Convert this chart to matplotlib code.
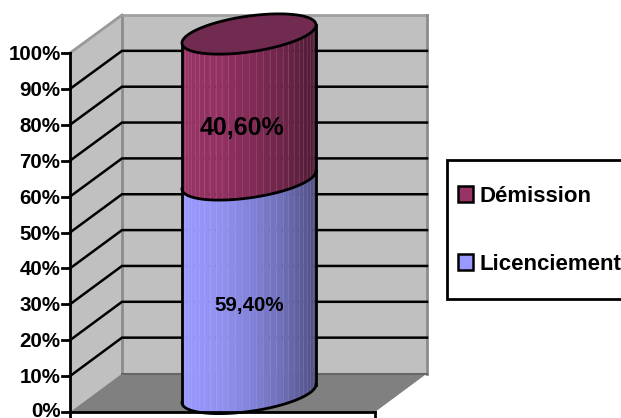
"""Stacked 3D-look cylinder: share of departures by reason."""

import numpy as np
import matplotlib

matplotlib.use("Agg")
import matplotlib.pyplot as plt
from matplotlib.colors import to_rgb
from matplotlib.patches import Polygon, Rectangle

series_names = ["Licenciement", "Démission"]
series_values = [59.40, 40.60]
value_labels = ["59,40%", "40,60%"]
tick_values = [0, 10, 20, 30, 40, 50, 60, 70, 80, 90, 100]
tick_labels = ["0%", "10%", "20%", "30%", "40%", "50%", "60%", "70%", "80%", "90%", "100%"]

WIDTH, HEIGHT = 621, 418
FRONT_X, BACK_X = 70, 122
FRONT_RIGHT, BACK_RIGHT = 375, 427
FRONT_Y0, FRONT_SCALE = 412, 3.59
BACK_Y0, BACK_SCALE = 373.5, 3.585

CYL_X, CYL_RX = 249, 67
CYL_Y0, CYL_SCALE = 393.5, 3.595
CYL_TILT, CYL_RY = 9, 18

SERIES_COLORS = ["#9999FF", "#993366"]
TOP_COLOR = "#722B50"
INK = "black"

plt.rcParams["font.family"] = ["Liberation Sans", "DejaVu Sans"]
plt.rcParams["font.weight"] = "bold"


def front_y(v):
    return FRONT_Y0 - FRONT_SCALE * v


def back_y(v):
    return BACK_Y0 - BACK_SCALE * v


def rim(v, t):
    """Point(s) on the tilted cylinder section at value v for angle t."""
    x = CYL_X - CYL_RX * np.cos(t)
    y = CYL_Y0 - CYL_SCALE * v + CYL_TILT * np.cos(t) + CYL_RY * np.sin(t)
    return x, y


def shade(color, t):
    """Darken a base colour towards the right-hand side of the cylinder."""
    p = (1 - np.cos(t)) / 2
    f = np.interp(p, [0, 0.25, 0.5, 0.75, 0.9, 1], [1, 0.96, 0.86, 0.72, 0.6, 0.5])
    return tuple(c * f for c in to_rgb(color))


def side_line(ax, low, high, t, **style):
    """Vertical line along the cylinder wall at angle t."""
    x0, y0 = rim(low, t)
    x1, y1 = rim(high, t)
    ax.plot([x0, x1], [y0, y1], **style)


def draw_body(ax, low, high, color):
    edges = np.linspace(0, np.pi, 31)
    for a, b in zip(edges[:-1], edges[1:]):
        ts = np.linspace(a, b, 5)
        xl, yl = rim(low, ts)
        xh, yh = rim(high, ts[::-1])
        pts = np.column_stack([np.r_[xl, xh], np.r_[yl, yh]])
        ax.add_patch(Polygon(pts, closed=True, fc=shade(color, (a + b) / 2), ec=shade(color, (a + b) / 2),
                             lw=0.3, zorder=4))
        # faint facet seam
        side_line(ax, low, high, b, color="white", lw=0.6, alpha=0.12, zorder=4.2)

    ts = np.linspace(0, np.pi, 120)
    ax.plot(*rim(low, ts), color=INK, lw=2, zorder=5)
    for t in (0, np.pi):
        side_line(ax, low, high, t, color=INK, lw=2, zorder=5)


fig = plt.figure(figsize=(WIDTH / 100, HEIGHT / 100), dpi=100)
ax = fig.add_axes([0, 0, 1, 1])
ax.set_xlim(0, WIDTH)
ax.set_ylim(HEIGHT, 0)
ax.axis("off")

# walls and floor
ax.add_patch(Polygon([(FRONT_X, front_y(0)), (BACK_X, back_y(0)), (BACK_X, back_y(100)), (FRONT_X, front_y(100))],
                     fc="#C0C0C0", ec="none", zorder=1))
ax.add_patch(Rectangle((BACK_X, back_y(100)), BACK_RIGHT - BACK_X, back_y(0) - back_y(100),
                       fc="#C0C0C0", ec="none", zorder=1))
ax.add_patch(Polygon([(FRONT_X, front_y(0)), (BACK_X, back_y(0)), (BACK_RIGHT, back_y(0)), (FRONT_RIGHT, front_y(0))],
                     fc="#808080", ec="none", zorder=1))
ax.plot([FRONT_X, BACK_X], [front_y(100), back_y(100)], color="#999999", lw=2, zorder=2)
ax.plot([BACK_X, BACK_X], [back_y(0), back_y(100)], color="#8C8C8C", lw=2, zorder=2)
ax.plot([BACK_X, BACK_RIGHT], [back_y(100), back_y(100)], color="#A0A0A0", lw=2, zorder=2)
ax.plot([BACK_RIGHT, BACK_RIGHT], [back_y(100), back_y(0)], color="#8C8C8C", lw=2, zorder=2)
ax.plot([BACK_X, BACK_RIGHT], [back_y(0), back_y(0)], color="#666666", lw=1.5, zorder=2)

# gridlines across side and back walls
for v in tick_values[1:-1]:
    ax.plot([FRONT_X, BACK_X, BACK_RIGHT], [front_y(v), back_y(v), back_y(v)],
            color=INK, lw=1.8, solid_joinstyle="miter", zorder=3)

# axes and tick marks
ax.plot([FRONT_X, FRONT_X], [front_y(100), 418], color=INK, lw=2, zorder=6)
ax.plot([FRONT_X, FRONT_RIGHT], [front_y(0), front_y(0)], color=INK, lw=2, zorder=6)
ax.plot([FRONT_RIGHT, FRONT_RIGHT], [front_y(0), 418], color=INK, lw=2, zorder=6)
for v, label in zip(tick_values, tick_labels):
    ax.plot([62, FRONT_X], [front_y(v), front_y(v)], color=INK, lw=2, zorder=6)
    if v == 0:
        # the bottom label sits against the figure edge
        ax.text(60.5, 417, label, ha="right", va="baseline", fontsize=14.8, color=INK)
    else:
        ax.text(60.5, front_y(v) + 1.5, label, ha="right", va="center", fontsize=14.8, color=INK)

# cylinder segments, bottom up
base = 0
for value, color in zip(series_values, SERIES_COLORS):
    draw_body(ax, base, base + value, color)
    base += value

ts = np.linspace(0, 2 * np.pi, 240)
xt, yt = rim(sum(series_values), ts)
ax.add_patch(Polygon(np.column_stack([xt, yt]), closed=True, fc=TOP_COLOR, ec=INK, lw=2, zorder=6))

ax.text(249, 306, value_labels[0], ha="center", va="center", fontsize=14.8, color=INK, zorder=7)
ax.text(242, 128, value_labels[1], ha="center", va="center", fontsize=18, color=INK, zorder=7)

# legend box runs off the right edge of the figure
ax.add_patch(Rectangle((447, 160), 200, 139, fc="white", ec=INK, lw=2, zorder=3))
for name, color, y in zip(series_names, SERIES_COLORS, [262, 194]):
    ax.add_patch(Rectangle((458, y - 8), 14.5, 15.5, fc=color, ec=INK, lw=1.8, zorder=4))
    ax.text(479.5, y + 2, name, ha="left", va="center", fontsize=16, color=INK, zorder=4)

fig.savefig("out.png", dpi=100)
plt.close(fig)
